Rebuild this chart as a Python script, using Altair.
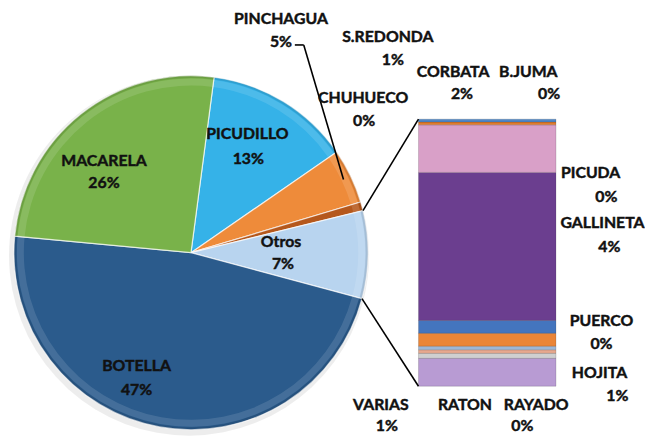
import math
import altair as alt
import pandas as pd

# ---------------- data ----------------
pie_names = ["PICUDILLO", "PINCHAGUA", "CHUHUECO", "Otros", "BOTELLA", "MACARELA"]
pie_values = [13.3, 5.0, 0.8, 8.0, 47.3, 25.6]
pie_colors = ["#35B2E8", "#EE8B3A", "#B5581C", "#B8D4EF", "#2B5B8C", "#79B24A"]

# secondary bar ("Otros"), listed bottom -> top
bar_names = ["HOJITA", "VARIAS", "RAYADO", "RATON", "PUERCO", "PICUDA",
             "GALLINETA", "CORBATA", "S.REDONDA", "B.JUMA"]
bar_values = [0.78, 0.14, 0.10, 0.10, 0.36, 0.36, 4.14, 1.33, 0.08, 0.08]
bar_colors = ["#B89BD3", "#CFCFCF", "#E6A88E", "#9CB6D6", "#EA8537", "#4475BE",
              "#6B3E8F", "#D9A0C8", "#E07B2E", "#4F86C6"]

# data labels (text as printed)
label_names = ["PINCHAGUA", "S.REDONDA", "CORBATA", "B.JUMA", "CHUHUECO",
               "PICUDILLO", "MACARELA", "Otros", "PICUDA", "GALLINETA",
               "PUERCO", "HOJITA", "BOTELLA", "VARIAS", "RATON", "RAYADO"]
label_pcts = ["5%", "1%", "2%", "0%", "0%",
              "13%", "26%", "7%", "0%", "4%",
              "0%", "1%", "47%", "1%", "", "0%"]

# ---------------- layout (pixels, chart coordinates) ----------------
W, H = 637, 426
CX, CY, R = 185, 245, 179
START = math.radians(7.5)
BX0, BX1 = 415, 554
BY_BOTTOM, BY_TOP = 380, 110

name_pos = [(276, 14), (384, 32), (450, 67), (526, 67), (359, 94),
            (242, 130), (97, 157), (276, 239), (589, 170), (601, 220),
            (600, 319), (598, 372), (130, 365), (377, 404), (462, 404), (534, 404)]
pct_pos = [(276, 37), (389, 55), (459, 90), (547, 90), (360, 117),
           (243, 155), (97, 180), (278, 262), (605, 194), (608, 244),
           (600, 342), (616, 395), (130, 389), (383, 425), (462, 425), (520, 425)]

# ---------------- pie ----------------
pie_df = pd.DataFrame({"name": pie_names, "value": pie_values,
                       "order": list(range(len(pie_names)))})
total = sum(pie_values)

theta_enc = alt.Theta("value:Q", stack=True,
                      scale=alt.Scale(range=[START, START + 2 * math.pi]))

shadow = alt.Chart(pie_df).mark_arc(
    radius=R + 3, color="#000000", opacity=0.07
).encode(
    theta=theta_enc,
    order=alt.Order("order:Q"),
    x=alt.value(CX - 2),
    y=alt.value(CY + 3),
)

pie = alt.Chart(pie_df).mark_arc(
    radius=R, stroke="#ffffff", strokeWidth=1.2, strokeOpacity=0.7
).encode(
    theta=theta_enc,
    color=alt.Color("name:N", scale=alt.Scale(domain=pie_names, range=pie_colors),
                    legend=None),
    order=alt.Order("order:Q"),
    x=alt.value(CX),
    y=alt.value(CY),
)

# bevel: light band just inside the rim, dark thin edge
rim_light = alt.Chart(pie_df).mark_arc(
    radius=R - 3, radius2=R - 10, color="#ffffff", opacity=0.12
).encode(
    theta=theta_enc, order=alt.Order("order:Q"),
    x=alt.value(CX), y=alt.value(CY),
)
rim_dark = alt.Chart(pie_df).mark_arc(
    radius=R, radius2=R - 2.5, color="#000000", opacity=0.10
).encode(
    theta=theta_enc, order=alt.Order("order:Q"),
    x=alt.value(CX), y=alt.value(CY),
)

# ---------------- bar ----------------
bar_df = pd.DataFrame({"name": bar_names, "value": bar_values})
bar_df["y1"] = bar_df["value"].cumsum()
bar_df["y0"] = bar_df["y1"] - bar_df["value"]
bar_total = sum(bar_values)

bar = alt.Chart(bar_df).mark_rect(stroke="#000000", strokeWidth=0.6, strokeOpacity=0.25).encode(
    x=alt.value(BX0),
    x2=alt.value(BX1),
    y=alt.Y("y0:Q", scale=alt.Scale(domain=[0, bar_total], range=[BY_BOTTOM, BY_TOP]),
            axis=None),
    y2="y1:Q",
    color=alt.Color("name:N", scale=alt.Scale(domain=bar_names, range=bar_colors),
                    legend=None),
)

# ---------------- connector and leader lines ----------------
def pie_point(frac, r):
    a = START + 2 * math.pi * frac
    return CX + r * math.sin(a), CY - r * math.cos(a)

i_otros = pie_names.index("Otros")
f_start = sum(pie_values[:i_otros]) / total
f_end = sum(pie_values[:i_otros + 1]) / total
p_top = pie_point(f_start, R)
p_bot = pie_point(f_end, R)

i_pin = pie_names.index("PINCHAGUA")
f_pin = (sum(pie_values[:i_pin]) + pie_values[i_pin] / 2) / total
p_pin = pie_point(f_pin, R - 8)
pin_anchor = (pct_pos[0][0] + 14, pct_pos[0][1] - 2)
pin_knee = (pin_anchor[0] + 9, pin_anchor[1])

lines_df = pd.DataFrame([
    {"x": p_top[0], "y": p_top[1], "x2": BX0, "y2": BY_TOP},
    {"x": p_bot[0], "y": p_bot[1], "x2": BX0, "y2": BY_BOTTOM},
    {"x": pin_anchor[0], "y": pin_anchor[1], "x2": pin_knee[0], "y2": pin_knee[1]},
    {"x": pin_knee[0], "y": pin_knee[1], "x2": p_pin[0], "y2": p_pin[1]},
])

lines = alt.Chart(lines_df).mark_rule(color="#000000", strokeWidth=1.6).encode(
    x=alt.X("x:Q", scale=None, axis=None),
    y=alt.Y("y:Q", scale=None, axis=None),
    x2="x2:Q",
    y2="y2:Q",
)

# ---------------- labels ----------------
rows = []
for n, p, (nx, ny), (px, py) in zip(label_names, label_pcts, name_pos, pct_pos):
    rows.append({"text": n, "x": nx, "y": ny})
    if p:
        rows.append({"text": p, "x": px, "y": py})
lab_df = pd.DataFrame(rows)

labels = alt.Chart(lab_df).mark_text(
    font="Lato", fontWeight="bold", fontSize=16, align="center",
    baseline="alphabetic", color="#111111", stroke="#111111", strokeWidth=0.45
).encode(
    x=alt.X("x:Q", scale=None, axis=None),
    y=alt.Y("y:Q", scale=None, axis=None),
    text="text:N",
)

chart = alt.layer(shadow, pie, rim_dark, rim_light, bar, lines, labels).resolve_scale(
    x="independent", y="independent", color="independent", theta="shared"
).properties(
    width=W, height=H, padding=0, background="#ffffff"
).configure_view(stroke=None)

chart.save("out.html", embed_options={"renderer": "svg", "actions": False})
